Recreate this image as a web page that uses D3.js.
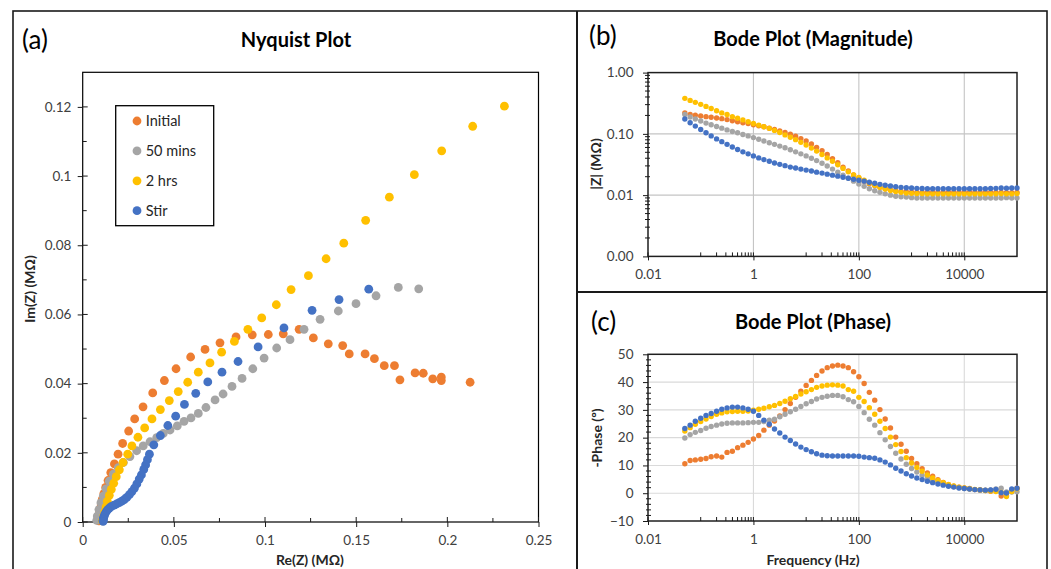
<!DOCTYPE html>
<html><head><meta charset="utf-8">
<script src="https://cdn.jsdelivr.net/npm/d3@7"></script>
<style>
body{margin:0;background:#fff;}
svg{display:block;font-family:Lato,"Open Sans",sans-serif;}
</style></head><body>
<svg id="c" width="1051" height="569"></svg>
<script>
// ---------- data ----------
const seriesNames = ["Initial", "50 mins", "2 hrs", "Stir"];
const seriesColors = ["#ED7D31", "#A5A5A5", "#FFC000", "#4472C4"];

// Nyquist tick labels
const nyqXTicks = [0, 0.05, 0.1, 0.15, 0.2, 0.25];
const nyqXLabels = ["0", "0.05", "0.1", "0.15", "0.2", "0.25"];
const nyqYTicks = [0, 0.02, 0.04, 0.06, 0.08, 0.1, 0.12];
const nyqYLabels = ["0", "0.02", "0.04", "0.06", "0.08", "0.1", "0.12"];

// Bode tick labels
const bodeXTicks = [0.01, 1, 100, 10000];
const bodeXLabels = ["0.01", "1", "100", "10000"];
const magYTicks = [0.001, 0.01, 0.1, 1];
const magYLabels = ["0.00", "0.01", "0.10", "1.00"];
const phaseYTicks = [-10, 0, 10, 20, 30, 40, 50];
const phaseYLabels = ["\u221210", "0", "10", "20", "30", "40", "50"];

// Nyquist points [Re, Im] in MOhm
const nyqInitial = [[0.2125,0.0404],[0.1967,0.0419],[0.1967,0.0409],[0.192,0.0414],[0.1868,0.0430],[0.1823,0.0431],[0.174,0.0411],[0.171,0.0452],[0.1654,0.0452],[0.160,0.0472],[0.1549,0.0486],[0.1462,0.0486],[0.1426,0.0510],[0.1347,0.0515],[0.1265,0.0532],[0.1187,0.0557],[0.110,0.0544],[0.1018,0.0542],[0.093,0.0541],[0.0841,0.0535],[0.0753,0.0518],[0.0671,0.0499],[0.0592,0.0477],[0.0512,0.0443],[0.0448,0.0409],[0.0384,0.0373],[0.0331,0.0333],[0.0285,0.0298],[0.0252,0.0263],[0.0219,0.0227],[0.0194,0.0196],[0.0174,0.0168],[0.0154,0.0143],[0.0139,0.0120],[0.0126,0.0100],[0.0116,0.0082],[0.0108,0.0066],[0.0102,0.0052],[0.0097,0.0040],[0.0094,0.0030],[0.0092,0.0022],[0.0090,0.0015],[0.0089,0.0010],[0.0089,0.0006],[0.0089,0.0003]];
const nyq50min = [[0.1843,0.0674],[0.1731,0.0678],[0.1609,0.0654],[0.1499,0.0631],[0.1402,0.0610],[0.1302,0.0586],[0.1214,0.0557],[0.1137,0.0527],[0.1064,0.0503],[0.0995,0.0474],[0.0933,0.0443],[0.0874,0.0415],[0.0819,0.0392],[0.0770,0.0370],[0.0726,0.0353],[0.0676,0.0331],[0.0634,0.0314],[0.0594,0.0301],[0.0556,0.0291],[0.0519,0.0278],[0.0479,0.0266],[0.0442,0.0256],[0.0406,0.0244],[0.0369,0.0232],[0.0332,0.0220],[0.0296,0.0206],[0.0259,0.0189],[0.0223,0.0172],[0.0195,0.0157],[0.0168,0.0138],[0.0146,0.0118],[0.0128,0.0096],[0.0113,0.0075],[0.0100,0.0056],[0.0089,0.0036],[0.0080,0.0017],[0.0077,0.0005]];
const nyq2hrs = [[0.2313,0.1202],[0.2139,0.1144],[0.1969,0.1073],[0.1819,0.1004],[0.1682,0.0939],[0.1552,0.0872],[0.1432,0.0806],[0.1335,0.0761],[0.1238,0.0712],[0.1143,0.0672],[0.1062,0.0628],[0.0982,0.0590],[0.0906,0.0557],[0.0832,0.0522],[0.0762,0.0491],[0.0698,0.0460],[0.0634,0.0433],[0.0576,0.0404],[0.0524,0.0377],[0.0475,0.0351],[0.0426,0.0325],[0.0380,0.0298],[0.0340,0.0272],[0.0303,0.0245],[0.0270,0.0220],[0.0247,0.0196],[0.0221,0.0172],[0.0201,0.0151],[0.0184,0.0131],[0.0170,0.0112],[0.0157,0.0094],[0.0146,0.0077],[0.0135,0.0060],[0.0128,0.0044],[0.0121,0.0030],[0.0115,0.0017],[0.0111,0.0007],[0.0109,0.0003]];
const nyqStir = [[0.1569,0.0673],[0.1406,0.0643],[0.1258,0.0612],[0.1104,0.0561],[0.0962,0.0506],[0.0852,0.0464],[0.0764,0.0433],[0.0686,0.0405],[0.0620,0.0372],[0.0558,0.0340],[0.0510,0.0306],[0.0467,0.0279],[0.0426,0.0250],[0.0390,0.0223],[0.0366,0.0196],[0.0355,0.0180],[0.0345,0.0165],[0.0335,0.0152],[0.0322,0.0136],[0.0310,0.0124],[0.0297,0.0110],[0.0284,0.0098],[0.0270,0.0088],[0.0256,0.0079],[0.0242,0.0071],[0.0228,0.0065],[0.0214,0.0060],[0.0200,0.0056],[0.0186,0.0052],[0.0172,0.0049],[0.0158,0.0045],[0.0146,0.0040],[0.0136,0.0035],[0.0128,0.0029],[0.0122,0.0023],[0.0118,0.0018],[0.0115,0.0013],[0.0113,0.0009],[0.0112,0.0005],[0.0112,0.0002]];

// Bode frequencies (Hz)
const freq = [0.05,0.063,0.079,0.1,0.126,0.158,0.2,0.251,0.316,0.398,0.501,0.631,0.794,1,1.26,1.58,2,2.51,3.16,3.98,5.01,6.31,7.94,10,12.6,15.8,20,25.1,31.6,39.8,50.1,63.1,79.4,100,126,158,200,251,316,398,501,631,794,1000,1259,1585,1995,2512,3162,3981,5012,6310,7943,10000,12589,15849,19953,25119,31623,39811,50119,63096,79433,100000];

// |Z| (MOhm)
const magInitial = [0.220,0.207,0.201,0.196,0.191,0.187,0.182,0.177,0.171,0.164,0.158,0.152,0.147,0.141,0.136,0.131,0.124,0.118,0.112,0.105,0.0987,0.0915,0.0837,0.0766,0.0682,0.0601,0.0529,0.0460,0.0395,0.0339,0.0287,0.0247,0.0214,0.0189,0.0169,0.0154,0.0143,0.0134,0.0127,0.0122,0.0118,0.0115,0.0114,0.0112,0.0111,0.0111,0.0111,0.0111,0.0111,0.0111,0.0111,0.0111,0.0111,0.0111,0.0111,0.0111,0.0111,0.0111,0.0111,0.0111,0.0111,0.0110,0.0110,0.0111];
const mag50min = [0.207,0.189,0.175,0.162,0.150,0.141,0.132,0.124,0.116,0.109,0.104,0.0975,0.0927,0.0869,0.0816,0.0766,0.0718,0.0674,0.0632,0.0594,0.0550,0.0509,0.0472,0.0437,0.0400,0.0366,0.0331,0.0299,0.0266,0.0237,0.0212,0.0189,0.0169,0.0152,0.0139,0.0127,0.0118,0.0111,0.0105,0.0100,0.0096,0.0094,0.0093,0.0091,0.0090,0.0090,0.0090,0.0090,0.0090,0.0090,0.0090,0.0090,0.0090,0.0090,0.0090,0.0090,0.0090,0.0090,0.0090,0.0090,0.0090,0.0091,0.0090,0.0090];
const mag2hrs = [0.380,0.352,0.327,0.303,0.281,0.260,0.238,0.220,0.207,0.191,0.180,0.169,0.158,0.148,0.139,0.131,0.123,0.114,0.105,0.0962,0.0881,0.0805,0.0727,0.0657,0.0586,0.0523,0.0460,0.0405,0.0357,0.0314,0.0273,0.0240,0.0214,0.0194,0.0175,0.0158,0.0145,0.0134,0.0126,0.0119,0.0115,0.0111,0.0108,0.0107,0.0106,0.0106,0.0105,0.0105,0.0105,0.0105,0.0105,0.0105,0.0105,0.0105,0.0105,0.0105,0.0105,0.0105,0.0105,0.0105,0.0106,0.0105,0.0105,0.0106];
const magStir = [0.175,0.152,0.134,0.118,0.104,0.0927,0.0827,0.0746,0.0674,0.0609,0.0557,0.0509,0.0472,0.0437,0.0405,0.0380,0.0357,0.0335,0.0318,0.0303,0.0287,0.0277,0.0266,0.0256,0.0247,0.0237,0.0229,0.0220,0.0212,0.0204,0.0196,0.0189,0.0182,0.0175,0.0169,0.0162,0.0156,0.0150,0.0145,0.0141,0.0137,0.0134,0.0132,0.0131,0.0129,0.0128,0.0127,0.0127,0.0127,0.0127,0.0127,0.0127,0.0127,0.0127,0.0127,0.0127,0.0127,0.0127,0.0128,0.0129,0.0131,0.0130,0.0131,0.0131];

// -Phase (deg)
const phInitial = [10.6,11.8,12.0,12.2,12.5,13.1,13.4,13.0,14.7,15.1,16.4,17.3,18.3,19.5,20.8,22.7,24.5,26.0,27.8,30.1,32.3,34.5,36.7,38.8,40.6,42.4,44.0,45.2,45.8,46.1,45.8,45.2,43.7,41.9,39.5,36.3,33.5,30.1,26.7,23.5,20.2,17.6,15.1,12.5,10.6,8.8,7.3,6.1,4.9,3.9,3.1,2.5,2.2,1.9,1.7,1.3,1.2,1.0,0.7,1.0,-1.0,-0.8,1.0,1.8];
const ph50min = [19.9,21.1,21.9,22.6,23.4,24.0,24.5,24.9,25.2,25.3,25.3,25.3,25.4,25.5,25.5,25.8,26.3,26.6,27.5,28.4,29.3,30.2,31.2,32.2,33.0,33.9,34.5,34.9,35.2,35.2,34.7,33.7,32.9,31.2,29.0,26.6,24.5,21.8,19.2,16.8,14.4,12.3,10.4,8.9,7.6,6.5,5.5,4.6,3.9,3.3,2.8,2.4,2.0,1.7,1.5,1.3,1.2,1.1,1.2,1.5,1.8,0.5,0.4,0.5];
const ph2hrs = [22.4,23.6,24.8,25.8,26.7,27.6,28.4,28.9,29.3,29.4,29.5,29.5,29.6,29.9,30.2,30.6,31.1,31.6,32.3,33.1,34.0,34.8,35.7,36.5,37.3,38.1,38.6,38.9,39.0,38.9,38.6,37.3,36.7,34.5,33.0,30.8,28.4,25.9,23.3,20.2,17.5,15.0,12.8,10.9,9.3,7.9,6.6,5.5,4.6,3.8,3.2,2.6,2.2,1.9,1.6,1.4,1.2,1.0,0.8,0.6,0.3,-1.2,0.6,1.6];
const phStir = [23.3,24.5,25.9,27.0,28.0,28.7,29.5,30.2,30.7,31.0,31.0,30.7,30.2,29.5,28.0,26.3,24.8,23.1,21.7,20.2,19.0,17.7,16.6,15.7,14.9,14.2,13.7,13.5,13.4,13.4,13.4,13.4,13.4,13.3,13.0,12.8,12.6,12.0,11.2,10.2,9.0,8.0,7.0,6.2,5.5,4.9,4.3,3.8,3.3,2.9,2.5,2.2,1.9,1.7,1.5,1.3,1.2,1.1,1.2,1.4,0.2,0.1,1.5,1.8];

const nyqSeries = [nyqInitial, nyq50min, nyq2hrs, nyqStir];
const magSeries = [magInitial, mag50min, mag2hrs, magStir];
const phSeries = [phInitial, ph50min, ph2hrs, phStir];

// ---------- drawing ----------
const svg = d3.select("#c");
svg.append("rect").attr("width", 1051).attr("height", 569).attr("fill", "#fff");
const FONT = "Lato, 'Open Sans', sans-serif";
const TICK_FS = 13.5, TICK_COL = "#404040";

function styleAxis(g) {
  g.select(".domain").remove();
  g.selectAll(".tick line").attr("stroke", "#1a1a1a").attr("stroke-width", 1);
  g.selectAll("text").attr("font-size", TICK_FS).attr("fill", TICK_COL).attr("font-family", FONT);
}
function text(x, y, s, opt) {
  const t = svg.append("text").attr("x", x).attr("y", y).text(s)
    .attr("font-family", FONT).attr("font-size", opt.fs || 14)
    .attr("font-weight", opt.fw || 400).attr("fill", opt.fill || "#000")
    .attr("text-anchor", opt.anchor || "start");
  if (opt.rot) t.attr("transform", `rotate(-90,${x},${y})`).attr("dominant-baseline", "central");
  return t;
}

// ===== (a) Nyquist =====
const nx = d3.scaleLinear().domain([0, 0.25]).range([82.7, 538.5]);
const ny = d3.scaleLinear().domain([0, 0.13]).range([522, 72.3]);

svg.append("rect").attr("x", nx(0)).attr("y", ny(0.13))
  .attr("width", nx(0.25) - nx(0)).attr("height", ny(0) - ny(0.13))
  .attr("fill", "none").attr("stroke", "#000").attr("stroke-width", 1.2);

const nxg = svg.append("g").attr("transform", `translate(0,${ny(0)})`)
  .call(d3.axisBottom(nx).tickValues(nyqXTicks).tickFormat((d, i) => nyqXLabels[i])
    .tickSizeInner(5).tickSizeOuter(0).tickPadding(8));
styleAxis(nxg);
const nyg = svg.append("g").attr("transform", `translate(${nx(0)},0)`)
  .call(d3.axisLeft(ny).tickValues(nyqYTicks).tickFormat((d, i) => nyqYLabels[i])
    .tickSizeInner(5).tickSizeOuter(0).tickPadding(6.3));
styleAxis(nyg);
// inner halves of major ticks and minor ticks
nyqXTicks.forEach(v => svg.append("line").attr("x1", nx(v)).attr("x2", nx(v)).attr("y1", ny(0)).attr("y2", ny(0) - 5).attr("stroke", "#1a1a1a"));
nyqYTicks.forEach(v => svg.append("line").attr("x1", nx(0)).attr("x2", nx(0) + 5).attr("y1", ny(v)).attr("y2", ny(v)).attr("stroke", "#1a1a1a"));
[0.025, 0.075, 0.125, 0.175, 0.225].forEach(v => svg.append("line").attr("x1", nx(v)).attr("x2", nx(v)).attr("y1", ny(0)).attr("y2", ny(0) - 4).attr("stroke", "#1a1a1a"));
[0.01, 0.03, 0.05, 0.07, 0.09, 0.11].forEach(v => svg.append("line").attr("x1", nx(0)).attr("x2", nx(0) + 4).attr("y1", ny(v)).attr("y2", ny(v)).attr("stroke", "#1a1a1a"));

nyqSeries.forEach((pts, s) => {
  svg.append("g").selectAll("circle").data(pts).join("circle")
    .attr("cx", d => nx(d[0])).attr("cy", d => ny(d[1])).attr("r", 4.4)
    .attr("fill", seriesColors[s]);
});

// legend
svg.append("rect").attr("x", 115.7).attr("y", 105.7).attr("width", 98).attr("height", 120)
  .attr("fill", "#fff").attr("stroke", "#000").attr("stroke-width", 1.3);
seriesNames.forEach((n, i) => {
  const yy = 121 + i * 29.9;
  svg.append("circle").attr("cx", 137).attr("cy", yy).attr("r", 4.4).attr("fill", seriesColors[i]);
  text(145.7, yy + 5, n, { fs: 14.5, fill: "#262626" });
});

text(22, 49, "(a)", { fs: 26 });
text(296, 47, "Nyquist Plot", { fs: 20, fw: 700, anchor: "middle" });
text(310, 565, "Re(Z) (M\u03A9)", { fs: 14, fw: 700, anchor: "middle", fill: "#262626" });
text(29, 289, "Im(Z) (M\u03A9)", { fs: 14, fw: 700, anchor: "middle", fill: "#262626", rot: true });

// ===== shared Bode x =====
const bx = d3.scaleLog().domain([0.01, 100000]).range([648, 1017]);
const bxMinor = [0.1,0.2,0.3,0.4,0.5,0.6,0.7,0.8,0.9,10,20,30,40,50,60,70,80,90,1000,2000,3000,4000,5000,6000,7000,8000,9000];

function bodeFrame(yScale, yTop, yBot, hGrid, gridCol) {
  bodeXTicks.slice(1).forEach(v => svg.append("line").attr("x1", bx(v)).attr("x2", bx(v))
    .attr("y1", yTop).attr("y2", yBot).attr("stroke", gridCol).attr("stroke-width", 1.1));
  hGrid.forEach(v => svg.append("line").attr("x1", bx(0.01)).attr("x2", bx(100000))
    .attr("y1", yScale(v)).attr("y2", yScale(v)).attr("stroke", gridCol).attr("stroke-width", 1.1));
  svg.append("rect").attr("x", bx(0.01)).attr("y", yTop).attr("width", bx(100000) - bx(0.01))
    .attr("height", yBot - yTop).attr("fill", "none").attr("stroke", "#1f1f1f").attr("stroke-width", 1.5);
  const g = svg.append("g").attr("transform", `translate(0,${yBot})`)
    .call(d3.axisBottom(bx).tickValues(bodeXTicks).tickFormat((d, i) => bodeXLabels[i])
      .tickSizeInner(4).tickSizeOuter(0).tickPadding(9));
  styleAxis(g);
  bodeXTicks.forEach(v => svg.append("line").attr("x1", bx(v)).attr("x2", bx(v)).attr("y1", yBot).attr("y2", yBot - 4).attr("stroke", "#1a1a1a"));
  bxMinor.forEach(v => svg.append("line").attr("x1", bx(v)).attr("x2", bx(v)).attr("y1", yBot).attr("y2", yBot - 4).attr("stroke", "#1a1a1a"));
}

// ===== (b) Magnitude =====
const by = d3.scaleLog().domain([0.001, 1]).range([256.4, 72.6]);
bodeFrame(by, 72.6, 256.4, [0.01, 0.1], "#c4c4c4");
const byg = svg.append("g").attr("transform", `translate(${bx(0.01)},0)`)
  .call(d3.axisLeft(by).tickValues(magYTicks).tickFormat((d, i) => magYLabels[i])
    .tickSizeInner(5).tickSizeOuter(0).tickPadding(9.5));
styleAxis(byg);
[0.001, 0.01, 0.1].forEach(dec => [2,3,4,5,6,7,8,9].forEach(k => {
  const v = dec * k;
  svg.append("line").attr("x1", bx(0.01) - 3).attr("x2", bx(0.01) + 2).attr("y1", by(v)).attr("y2", by(v)).attr("stroke", "#1a1a1a");
}));
magSeries.forEach((vals, s) => {
  svg.append("g").selectAll("circle").data(vals).join("circle")
    .attr("cx", (d, i) => bx(freq[i])).attr("cy", d => by(d)).attr("r", 2.7)
    .attr("fill", seriesColors[s]);
});
text(589, 45, "(b)", { fs: 26 });
text(813, 46, "Bode Plot (Magnitude)", { fs: 20, fw: 700, anchor: "middle" });
text(595, 164, "|Z|  (M\u03A9)", { fs: 14, fw: 700, anchor: "middle", fill: "#262626", rot: true });

// ===== (c) Phase =====
const py = d3.scaleLinear().domain([-10, 50]).range([521, 354.3]);
bodeFrame(py, 354.3, 521, [0, 10, 20, 30, 40], "#dadada");
const pyg = svg.append("g").attr("transform", `translate(${bx(0.01)},0)`)
  .call(d3.axisLeft(py).tickValues(phaseYTicks).tickFormat((d, i) => phaseYLabels[i])
    .tickSizeInner(5).tickSizeOuter(0).tickPadding(9.5));
styleAxis(pyg);
d3.range(-8, 50, 2).filter(v => v % 10 !== 0).forEach(v =>
  svg.append("line").attr("x1", bx(0.01) - 2).attr("x2", bx(0.01) + 3).attr("y1", py(v)).attr("y2", py(v)).attr("stroke", "#1a1a1a"));
phSeries.forEach((vals, s) => {
  svg.append("g").selectAll("circle").data(vals).join("circle")
    .attr("cx", (d, i) => bx(freq[i])).attr("cy", d => py(d)).attr("r", 2.7)
    .attr("fill", seriesColors[s]);
});
text(591, 331, "(c)", { fs: 26 });
text(813, 329, "Bode Plot (Phase)", { fs: 20, fw: 700, anchor: "middle" });
text(596, 438, "-Phase (\u00BA)", { fs: 14, fw: 700, anchor: "middle", fill: "#262626", rot: true });
text(813, 565, "Frequency (Hz)", { fs: 14, fw: 700, anchor: "middle", fill: "#262626" });

// ===== figure frame =====
svg.append("rect").attr("x", 13).attr("y", 11).attr("width", 1034).attr("height", 620)
  .attr("fill", "none").attr("stroke", "#1a1a1a").attr("stroke-width", 1.6);
svg.append("line").attr("x1", 577).attr("x2", 577).attr("y1", 11).attr("y2", 569).attr("stroke", "#1a1a1a").attr("stroke-width", 2);
svg.append("line").attr("x1", 577).attr("x2", 1047).attr("y1", 292).attr("y2", 292).attr("stroke", "#1a1a1a").attr("stroke-width", 2);
</script>
</body></html>
